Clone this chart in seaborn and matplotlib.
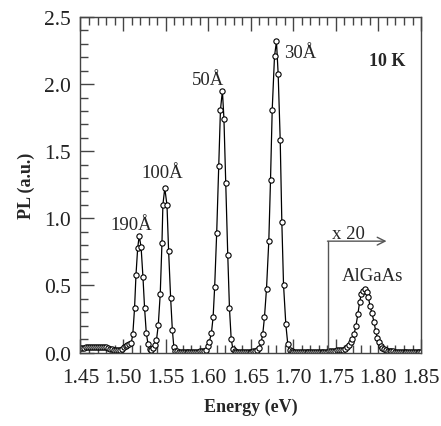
import matplotlib
matplotlib.use("Agg")
import matplotlib.pyplot as plt
import seaborn as sns
import pandas as pd
from matplotlib.ticker import MultipleLocator, FormatStrFormatter

# ---- data ----
energy_a = [1.4500, 1.4523, 1.4546, 1.4569, 1.4592, 1.4615, 1.4638, 1.4661, 1.4684, 1.4707,
            1.4730, 1.4753, 1.4776, 1.4799, 1.4822, 1.4845, 1.4868, 1.4891, 1.4914, 1.4937,
            1.4960, 1.4983, 1.5006, 1.5029, 1.5052, 1.5075, 1.5096, 1.5115]
pl_a = [0.036, 0.037, 0.037, 0.038, 0.038, 0.038, 0.039, 0.039, 0.039, 0.040,
        0.040, 0.040, 0.040, 0.038, 0.034, 0.029, 0.024, 0.020, 0.018, 0.018,
        0.022, 0.030, 0.042, 0.052, 0.058, 0.062, 0.068, 0.140]

energy_qw_wide = [1.5135, 1.5152, 1.5172, 1.5190, 1.5212, 1.5234, 1.5253, 1.5273, 1.5293, 1.5312,
                  1.5333, 1.5354, 1.5372, 1.5392, 1.5414, 1.5437, 1.5457, 1.5468, 1.5490, 1.5516,
                  1.5535, 1.5559, 1.5579, 1.5596, 1.5614]
pl_qw_wide = [0.33, 0.58, 0.78, 0.87, 0.785, 0.56, 0.33, 0.145, 0.065, 0.028,
              0.022, 0.035, 0.055, 0.090, 0.207, 0.44, 0.815, 1.10, 1.225, 1.10,
              0.76, 0.405, 0.17, 0.045, 0.015]

energy_b = [1.5635, 1.5657, 1.5680, 1.5702, 1.5724, 1.5746, 1.5768, 1.5790, 1.5812, 1.5835,
            1.5857, 1.5879, 1.5901, 1.5923, 1.5945, 1.5970, 1.5993]
pl_b = [0.010, 0.007, 0.006, 0.005, 0.005, 0.005, 0.005, 0.005, 0.005, 0.006,
        0.006, 0.007, 0.008, 0.010, 0.013, 0.022, 0.048]

energy_50 = [1.6014, 1.6038, 1.6058, 1.6076, 1.6100, 1.6124, 1.6144, 1.6167, 1.6185, 1.6206,
             1.6230, 1.6250, 1.6270, 1.6290, 1.6310]
pl_50 = [0.082, 0.145, 0.265, 0.488, 0.893, 1.388, 1.808, 1.95, 1.743, 1.26,
         0.725, 0.33, 0.103, 0.025, 0.010]

energy_c = [1.6332, 1.6354, 1.6376, 1.6398, 1.6420, 1.6442, 1.6464, 1.6486, 1.6508, 1.6530,
            1.6552, 1.6576]
pl_c = [0.007, 0.006, 0.005, 0.005, 0.005, 0.005, 0.005, 0.006, 0.006, 0.008,
        0.012, 0.020]

energy_30 = [1.6599, 1.6622, 1.6641, 1.6661, 1.6685, 1.6712, 1.6732, 1.6752, 1.6779, 1.6802,
             1.6822, 1.6846, 1.6865, 1.6885, 1.6912, 1.6935, 1.6959]
pl_30 = [0.037, 0.075, 0.137, 0.263, 0.475, 0.83, 1.283, 1.808, 2.208, 2.318,
         2.075, 1.583, 0.975, 0.505, 0.21, 0.062, 0.017]

energy_d = [1.6980, 1.7002, 1.7024, 1.7046, 1.7068, 1.7090, 1.7112, 1.7134, 1.7156, 1.7178,
            1.7200, 1.7222, 1.7244, 1.7266, 1.7288, 1.7310, 1.7332, 1.7354, 1.7376, 1.7398,
            1.7420, 1.7442, 1.7464, 1.7487, 1.7510, 1.7533, 1.7556, 1.7579]
pl_d = [0.010, 0.007, 0.006, 0.005, 0.005, 0.005, 0.005, 0.005, 0.005, 0.005,
        0.005, 0.005, 0.005, 0.005, 0.005, 0.005, 0.006, 0.006, 0.006, 0.007,
        0.010, 0.008, 0.012, 0.015, 0.018, 0.016, 0.020, 0.021]

energy_algaas = [1.7610, 1.7634, 1.7657, 1.7673, 1.7688, 1.7712, 1.7735, 1.7759, 1.7779, 1.7799,
                 1.7822, 1.7841, 1.7861, 1.7881, 1.7900, 1.7924, 1.7947, 1.7967, 1.7987, 1.8006,
                 1.8026, 1.8046, 1.8065, 1.8085, 1.8108, 1.8130, 1.8152]
pl_algaas = [0.025, 0.040, 0.055, 0.075, 0.100, 0.135, 0.197, 0.290, 0.377, 0.437,
             0.462, 0.475, 0.450, 0.412, 0.350, 0.292, 0.230, 0.162, 0.112, 0.075,
             0.050, 0.035, 0.025, 0.020, 0.015, 0.012, 0.010]

energy_e = [1.8174, 1.8196, 1.8218, 1.8240, 1.8262, 1.8284, 1.8306, 1.8328, 1.8350, 1.8372,
            1.8394, 1.8416, 1.8438, 1.8460, 1.8482, 1.8500]
pl_e = [0.008, 0.007, 0.006, 0.006, 0.005, 0.005, 0.005, 0.005, 0.005, 0.005,
        0.005, 0.005, 0.005, 0.005, 0.005, 0.005]

peak_labels = ["190Å", "100Å", "50Å", "30Å"]
peak_label_x = [1.5098, 1.5462, 1.6000, 1.6894]
peak_label_y = [0.92, 1.31, 2.00, 2.20]

x_ticks = [1.45, 1.50, 1.55, 1.60, 1.65, 1.70, 1.75, 1.80, 1.85]
y_ticks = [0.0, 0.5, 1.0, 1.5, 2.0, 2.5]

df = pd.DataFrame({
    "Energy": energy_a + energy_qw_wide + energy_b + energy_50 + energy_c + energy_30
              + energy_d + energy_algaas + energy_e,
    "PL": pl_a + pl_qw_wide + pl_b + pl_50 + pl_c + pl_30 + pl_d + pl_algaas + pl_e,
})

# ---- style ----
sns.set_style("ticks")
plt.rcParams["font.family"] = ["Liberation Serif", "DejaVu Serif"]

fig = plt.figure(figsize=(4.41, 4.27), dpi=100)
ax = fig.add_axes([0.1825, 0.172, 0.7722, 0.7858])

sns.lineplot(data=df, x="Energy", y="PL", ax=ax, color="black", lw=0.9,
             marker="o", markersize=3.8, markerfacecolor="white",
             markeredgecolor="black", markeredgewidth=0.8, sort=True)

ax.set_xlim(1.45, 1.85)
ax.set_ylim(0, 2.5)
ax.set_xticks(x_ticks)
ax.set_yticks(y_ticks)
ax.xaxis.set_major_formatter(FormatStrFormatter("%.2f"))
ax.yaxis.set_major_formatter(FormatStrFormatter("%.1f"))
ax.xaxis.set_minor_locator(MultipleLocator(0.01))
ax.yaxis.set_minor_locator(MultipleLocator(0.1))

spine_col = "#444444"
for s in ax.spines.values():
    s.set_color(spine_col)
    s.set_linewidth(1.0)
ax.tick_params(axis="both", which="both", direction="in", color=spine_col,
               top=True, right=False, bottom=True, left=True,
               labelsize=15.5, width=1.0, labelcolor="#222222")
ax.tick_params(axis="both", which="major", length=10)
ax.tick_params(axis="both", which="minor", length=6)
ax.tick_params(axis="x", which="major", pad=11)
ax.tick_params(axis="y", which="major", pad=7)

ax.set_xlabel("Energy (eV)", fontsize=13, fontweight="bold", labelpad=8)
ax.set_ylabel("PL (a.u.)", fontsize=13, fontweight="bold", labelpad=6)

for lab, lx, ly in zip(peak_labels, peak_label_x, peak_label_y):
    ha = "left" if lab == "30Å" else "center"
    ax.text(lx, ly, lab, fontsize=13.5, ha=ha, va="baseline")

ax.text(1.8105, 2.146, "10 K", fontsize=13, fontweight="bold", ha="center", va="baseline")
ax.text(1.7928, 0.54, "AlGaAs", fontsize=13.5, ha="center", va="baseline")
ax.text(1.765, 0.853, "x 20", fontsize=13.5, ha="center", va="baseline")

# x20 marker: vertical line and arrow
ax.plot([1.7406, 1.7406], [0.0, 0.83], color="#555555", lw=1.0)
ax.annotate("", xy=(1.8095, 0.83), xytext=(1.7401, 0.83),
            arrowprops=dict(arrowstyle="->", color="#555555", lw=1.0,
                            shrinkA=0, shrinkB=0, mutation_scale=14))

fig.savefig("out.png", dpi=100)
